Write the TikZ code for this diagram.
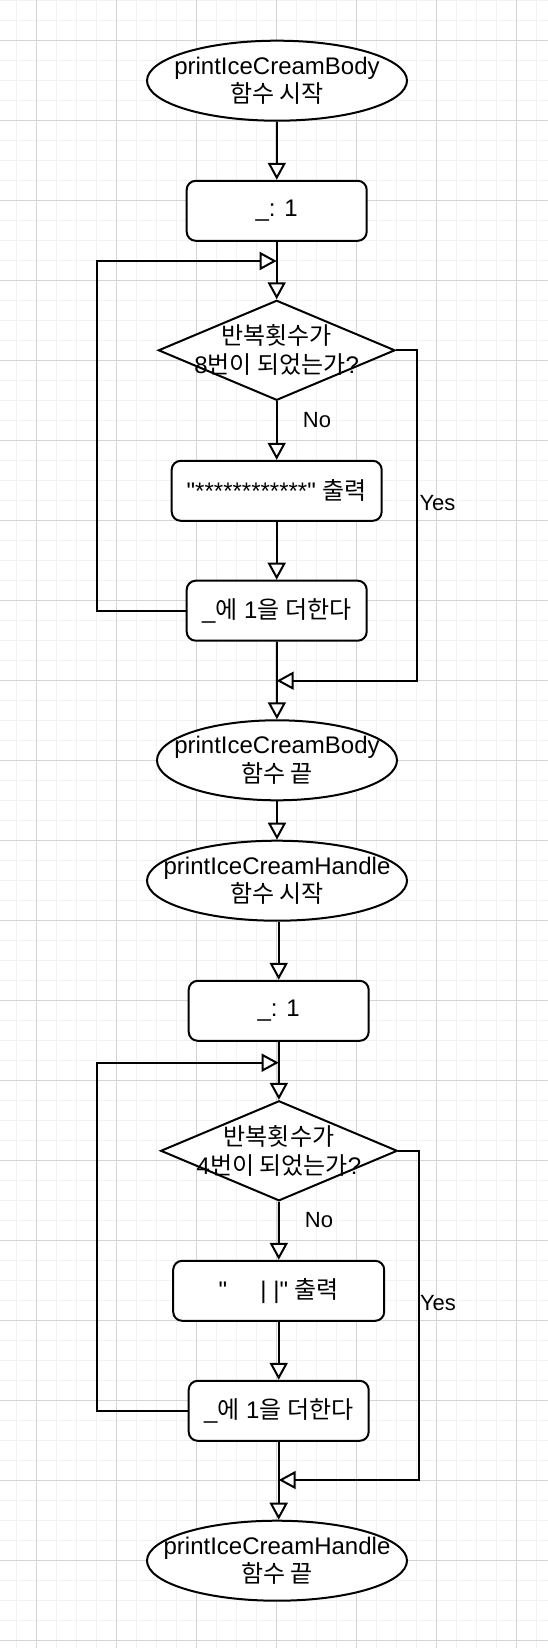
\documentclass[tikz,border=0pt]{standalone}
\usepackage{fontspec}
\setmainfont{Liberation Sans}
\newfontfamily\kr{Noto Sans CJK KR}
\usetikzlibrary{shapes.geometric,arrows.meta}
\definecolor{gridminor}{RGB}{242,242,242}
\definecolor{gridmajor}{RGB}{212,212,212}
\begin{document}
\begin{tikzpicture}[x=1pt,y=-1pt,
  line/.style={line width=2pt, draw=black},
  arr/.style={line, -{Triangle[length=17pt,width=18pt,fill=white]}},
  txt/.style={font=\fontsize{24}{28.8}\selectfont, align=center, inner sep=0pt},
  proc/.style={draw, line width=2pt, rounded corners=9pt, minimum height=60pt, inner sep=0pt, fill=white, txt},
  term/.style={ellipse, draw, line width=2pt, minimum width=260pt, minimum height=80pt, inner sep=0pt, fill=white},
  dec/.style={diamond, draw, line width=2pt, minimum width=236.7pt, minimum height=100pt, inner sep=0pt, fill=white},
  lbl/.style={font=\fontsize{22}{26}\selectfont, inner sep=0pt}]
\useasboundingbox (0,0) rectangle (548,1648);
\fill[white] (0,0) rectangle (548,1648);
% grid
\foreach \x in {16,36,...,536} \draw[gridminor, line width=1pt] (\x,0) -- (\x,1648);
\foreach \y in {0.7,20.7,...,1640.7} \draw[gridminor, line width=1pt] (0,\y) -- (548,\y);
\foreach \x in {36,116,...,516} \draw[gridmajor, line width=1pt] (\x,0) -- (\x,1648);
\foreach \y in {40.7,120.7,...,1640.7} \draw[gridmajor, line width=1pt] (0,\y) -- (548,\y);

% ---------- upper part ----------
\node[term, label={[txt]center:{printIceCreamBody\\{\kr 함수 시작}}}] (e1) at (277,80.7) {};
\node[proc, minimum width=180pt] (r1) at (276.7,210.8) {\_: 1};
\node[dec, label={[txt]center:{{\kr 반복횟수가}\\8{\kr 번이 되었는가}?}}] (d1) at (276.7,350.3) {};
\node[proc, minimum width=210pt] (r2) at (276.7,490.8) {\textquotedbl************\textquotedbl{} {\kr 출력}};
\node[proc, minimum width=180pt] (r3) at (276.7,610.7) {\_{\kr 에} 1{\kr 을 더한다}};
\node[term, minimum width=240pt, label={[txt]center:{printIceCreamBody\\{\kr 함수 끝}}}] (e2) at (277,760.3) {};

\coordinate (lp1) at (96.7,261);
\coordinate (j1) at (276.7,261);
\coordinate (y1) at (416.7,680.7);
\coordinate (m1) at (276.7,680.7);

\draw[arr] (e1) -- (r1);
\draw[arr] (r1) -- (d1);
\draw[arr] (r3.west) -| (lp1) -- (j1);
\draw[arr] (d1) -- (r2);
\draw[arr] (r2) -- (r3);
\draw[arr] (d1.east) -| (y1) -- (m1);
\draw[arr] (r3) -- (e2);
\node[lbl] (no1) at (317,420) {No};
\node[lbl] (yes1) at (437.5,503) {Yes};

% ---------- lower part ----------
\node[term, label={[txt]center:{printIceCreamHandle\\{\kr 함수 시작}}}] (e3) at (277,880.7) {};
\node[proc, minimum width=180pt] (r4) at (278.7,1010.8) {\_: 1};
\node[dec, label={[txt]center:{{\kr 반복횟수가}\\4{\kr 번이 되었는가}?}}] (d2) at (279,1150.8) {};
\node[proc, minimum width=211pt] (r5) at (278.7,1290.8) {\textquotedbl\ \ \ \ \ |\ |\textquotedbl{} {\kr 출력}};
\node[proc, minimum width=180pt] (r6) at (278.7,1410.8) {\_{\kr 에} 1{\kr 을 더한다}};
\node[term, label={[txt]center:{printIceCreamHandle\\{\kr 함수 끝}}}] (e4) at (277,1560.7) {};

\coordinate (lp2) at (96.7,1062.7);
\coordinate (j2) at (278.7,1062.7);
\coordinate (y2) at (419,1480);
\coordinate (m2) at (278.7,1480);

\draw[arr] (e2) -- (e3);
\draw[arr] (e3.south -| r4.north) -- (r4.north);
\draw[arr] (r4) -- (d2);
\draw[arr] (r6.west) -| (lp2) -- (j2);
\draw[arr] (d2) -- (r5);
\draw[arr] (r5) -- (r6);
\draw[arr] (d2.east) -| (y2) -- (m2);
\draw[arr] (r6.south) -- (r6.south |- e4.north);
\node[lbl] (no2) at (319,1220) {No};
\node[lbl] (yes2) at (438,1303) {Yes};
\end{tikzpicture}
\end{document}
